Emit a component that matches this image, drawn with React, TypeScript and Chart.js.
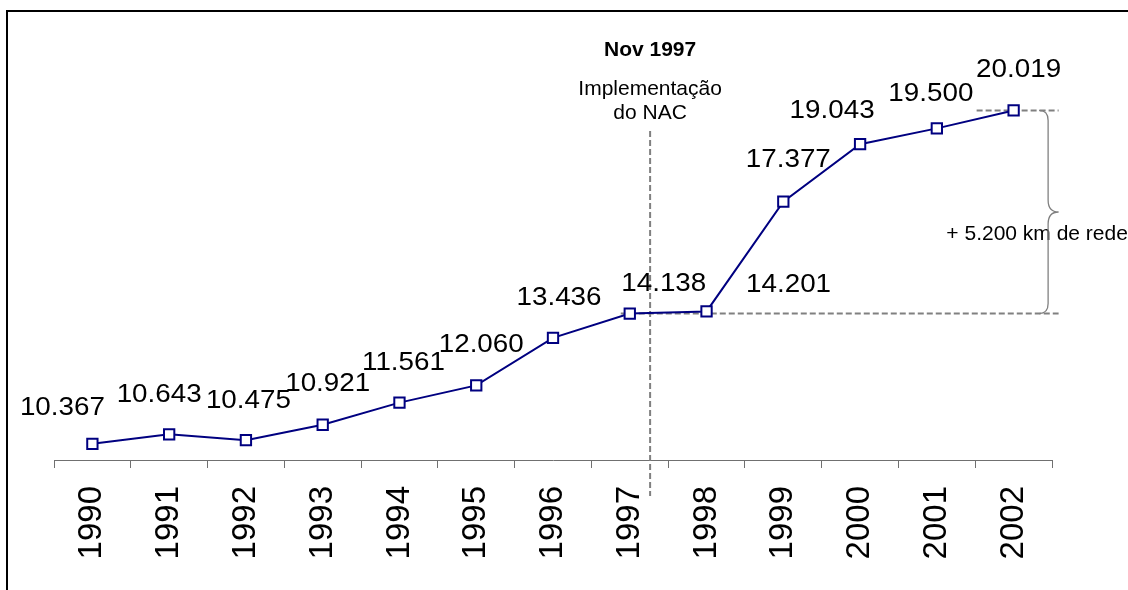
import React, { useEffect, useRef } from 'react';
import { Chart, registerables } from 'chart.js';

Chart.register(...registerables);

// ---- data ----
const years = ['1990', '1991', '1992', '1993', '1994', '1995', '1996', '1997', '1998', '1999', '2000', '2001', '2002'];
const networkKm = [10.367, 10.643, 10.475, 10.921, 11.561, 12.06, 13.436, 14.138, 14.201, 17.377, 19.043, 19.5, 20.019];
const valueLabels = networkKm.map((v) => v.toFixed(3));

// ---- annotation texts ----
const eventTitle = 'Nov 1997';
const eventLines = ['Implementação', 'do NAC'];
const eventPosition = 7.265; // category position of the vertical marker
const gainText = '+ 5.200 km de rede';
const gainFrom = 14.138;
const gainTo = 20.019;

// ---- label placement (layout only, px offsets from each point) ----
const labelOffsets: [number, number][] = [
  [-30, -38], [-10, -42], [2.5, -41], [5, -42.5], [4, -42], [5, -43], [6, -42.5],
  [34, -32], [82, -29], [5, -43.6], [-28, -35.6], [-6, -37], [5, -42.5],
];

const FONT = '"Liberation Sans", Arial, Helvetica, sans-serif';
const NAVY = '#000080';
const GRAY = '#808080';

const annotationPlugin = {
  id: 'annotations',
  beforeDatasetsDraw(chart: any) {
    const { ctx, chartArea } = chart;
    const xs = chart.scales.x;
    const ys = chart.scales.y;
    const vx = xs.getPixelForValue(eventPosition);
    const yLow = ys.getPixelForValue(gainFrom);
    const yHigh = ys.getPixelForValue(gainTo);
    const lastX = xs.getPixelForValue(years.length - 1);
    const endX = lastX + 45;

    ctx.save();
    ctx.strokeStyle = GRAY;
    ctx.lineWidth = 2;
    ctx.setLineDash([6, 3]);
    // vertical event line
    ctx.beginPath();
    ctx.moveTo(vx, 131);
    ctx.lineTo(vx, chartArea.bottom + 36);
    ctx.stroke();
    // lower horizontal
    ctx.beginPath();
    ctx.moveTo(xs.getPixelForValue(7) - 9, yLow);
    ctx.lineTo(endX, yLow);
    ctx.stroke();
    // upper horizontal
    ctx.beginPath();
    ctx.moveTo(lastX - 37, yHigh);
    ctx.lineTo(endX, yHigh);
    ctx.stroke();
    ctx.restore();

    // gain text
    ctx.save();
    ctx.fillStyle = '#000';
    ctx.font = `21px ${FONT}`;
    ctx.textAlign = 'center';
    ctx.textBaseline = 'alphabetic';
    const yMid = (yLow + yHigh) / 2;
    ctx.fillText(gainText, lastX + 23.5, yMid + 27.5);
    ctx.restore();

    // brace
    const bx = lastX + 34.5;
    const tipX = endX;
    ctx.save();
    ctx.strokeStyle = GRAY;
    ctx.lineWidth = 1.3;
    ctx.beginPath();
    ctx.moveTo(bx - 9, yHigh);
    ctx.quadraticCurveTo(bx, yHigh, bx, yHigh + 10);
    ctx.lineTo(bx, yMid - 12);
    ctx.quadraticCurveTo(bx, yMid, tipX, yMid);
    ctx.quadraticCurveTo(bx, yMid, bx, yMid + 12);
    ctx.lineTo(bx, yLow - 10);
    ctx.quadraticCurveTo(bx, yLow, bx - 9, yLow);
    ctx.stroke();
    ctx.restore();
  },
  afterDatasetsDraw(chart: any) {
    const { ctx } = chart;
    const meta = chart.getDatasetMeta(0);
    ctx.save();
    ctx.fillStyle = '#000';
    ctx.font = `25.5px ${FONT}`;
    ctx.textAlign = 'center';
    ctx.textBaseline = 'alphabetic';
    meta.data.forEach((pt: any, i: number) => {
      const [dx, dy] = labelOffsets[i];
      ctx.save();
      ctx.translate(pt.x + dx, pt.y + dy + 9.2);
      ctx.scale(1.09, 1);
      ctx.fillText(valueLabels[i], 0, 0);
      ctx.restore();
    });
    ctx.restore();
  },
  afterDraw(chart: any) {
    const { ctx } = chart;
    const vx = chart.scales.x.getPixelForValue(eventPosition);
    ctx.save();
    ctx.fillStyle = '#000';
    ctx.textAlign = 'center';
    ctx.textBaseline = 'alphabetic';
    ctx.font = `bold 21px ${FONT}`;
    ctx.fillText(eventTitle, vx, 56);
    ctx.font = `21px ${FONT}`;
    eventLines.forEach((line, i) => ctx.fillText(line, vx, 95 + i * 24.3));
    ctx.restore();
  },
};

export default function App() {
  const canvasRef = useRef<HTMLCanvasElement | null>(null);

  useEffect(() => {
    const canvas = canvasRef.current;
    if (!canvas) return;
    const chart = new Chart(canvas, {
      type: 'line',
      data: {
        labels: years,
        datasets: [
          {
            data: networkKm,
            borderColor: NAVY,
            borderWidth: 2,
            pointStyle: 'rect',
            pointRadius: 7.3,
            pointBorderWidth: 2,
            pointBorderColor: NAVY,
            pointBackgroundColor: '#ffffff',
            tension: 0,
            fill: false,
          },
        ],
      },
      options: {
        animation: false,
        responsive: false,
        devicePixelRatio: 1,
        events: [],
        layout: { padding: { left: 54, right: 76, top: 42, bottom: 0 } },
        plugins: { legend: { display: false }, tooltip: { enabled: false } },
        scales: {
          x: {
            type: 'category',
            offset: true,
            grid: {
              offset: true,
              drawOnChartArea: false,
              drawTicks: true,
              tickLength: 8,
              color: '#707070',
              lineWidth: 1,
            },
            border: { display: true, color: '#707070', width: 1 },
            ticks: {
              autoSkip: false,
              minRotation: 90,
              maxRotation: 90,
              padding: 18,
              color: '#000',
              font: { family: FONT, size: 33 },
            },
            afterFit: (scale: any) => {
              scale.height = 130;
            },
          },
          y: { display: false, min: 9.9, max: 22.0 },
        },
      },
      plugins: [annotationPlugin],
    } as any);
    return () => chart.destroy();
  }, []);

  return (
    <div style={{ position: 'fixed', left: 0, top: 0, width: 1128, height: 590, overflow: 'hidden', background: '#fff' }}>
      <div
        style={{
          position: 'absolute',
          left: 6,
          top: 10,
          width: 1300,
          height: 800,
          border: '2px solid #000',
          boxSizing: 'border-box',
        }}
      />
      <canvas
        ref={canvasRef}
        width={1128}
        height={590}
        style={{ position: 'absolute', left: 0, top: 0, width: 1128, height: 590 }}
      />
    </div>
  );
}
